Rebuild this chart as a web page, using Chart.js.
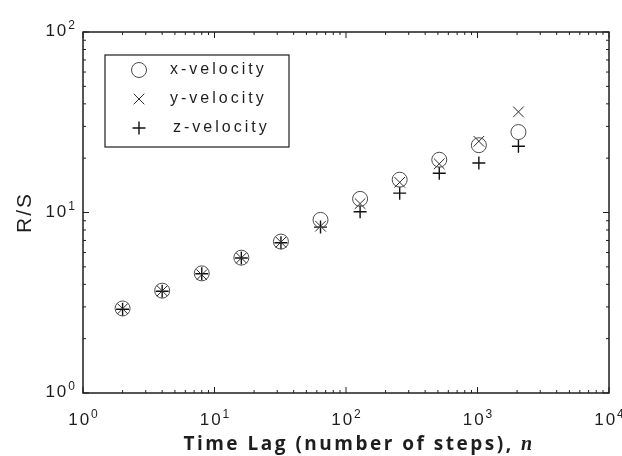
<!DOCTYPE html>
<html>
<head>
<meta charset="utf-8">
<script src="https://cdn.jsdelivr.net/npm/chart.js@4.4.1/dist/chart.umd.min.js"></script>
<style>
  html, body { margin: 0; background: #fff; }
  canvas { display: block; }
</style>
</head>
<body>
<canvas id="rs" width="622" height="456"></canvas>
<script>
// time lag n (number of steps)
const lagSteps = [2, 4, 8, 16, 32, 64, 128, 256, 512, 1024, 2048];
// R/S values
const xVelocity = [2.94, 3.69, 4.60, 5.62, 6.90, 9.1, 11.9, 15.2, 19.6, 23.6, 27.9];
const yVelocity = [2.93, 3.68, 4.52, 5.60, 6.85, 8.4, 11.2, 14.7, 18.6, 24.8, 36.1];
const zVelocity = [2.91, 3.66, 4.58, 5.60, 6.80, 8.3, 10.1, 12.8, 16.5, 18.8, 23.3];
const seriesNames = ['x-velocity', 'y-velocity', 'z-velocity'];
// decade exponents shown on the axes
const xExponents = [0, 1, 2, 3, 4];
const yExponents = [0, 1, 2];

const ink = '#1e1e1e';

function toPoints(vals) {
  return lagSteps.map((n, i) => ({ x: n, y: vals[i] }));
}

// "10" with a raised exponent, anchored at (x, baseline)
function powerLabel(ctx, exp, x, base, align) {
  ctx.font = '17px "Liberation Sans"';
  ctx.letterSpacing = '2px';
  const wMain = ctx.measureText('10').width;
  ctx.font = '12px "Liberation Sans"';
  ctx.letterSpacing = '0px';
  const wExp = ctx.measureText(String(exp)).width;
  const total = wMain + wExp;
  let left = x - total / 2;
  if (align === 'right') left = x - total;
  ctx.textAlign = 'left';
  ctx.textBaseline = 'alphabetic';
  ctx.font = '17px "Liberation Sans"';
  ctx.letterSpacing = '2px';
  ctx.fillText('10', left, base);
  ctx.font = '12px "Liberation Sans"';
  ctx.letterSpacing = '0px';
  ctx.fillText(String(exp), left + wMain, base - 7);
}

const framePlugin = {
  id: 'frame',
  afterDraw(chart) {
    const { ctx, chartArea: a, scales: { x, y } } = chart;
    ctx.save();
    ctx.fillStyle = ink;
    ctx.strokeStyle = ink;

    // frame
    ctx.lineWidth = 1.5;
    ctx.strokeRect(a.left, a.top, a.right - a.left, a.bottom - a.top);

    // inward ticks on all four sides
    ctx.lineWidth = 1;
    ctx.beginPath();
    xExponents.forEach(e => {
      for (let m = 1; m <= 9; m++) {
        const v = m * Math.pow(10, e);
        if (v > x.max) break;
        const px = x.getPixelForValue(v);
        const len = m === 1 ? 6 : 3;
        ctx.moveTo(px, a.bottom); ctx.lineTo(px, a.bottom - len);
        ctx.moveTo(px, a.top); ctx.lineTo(px, a.top + len);
      }
    });
    yExponents.forEach(e => {
      for (let m = 1; m <= 9; m++) {
        const v = m * Math.pow(10, e);
        if (v > y.max) break;
        const py = y.getPixelForValue(v);
        const len = m === 1 ? 6 : 3;
        ctx.moveTo(a.left, py); ctx.lineTo(a.left + len, py);
        ctx.moveTo(a.right, py); ctx.lineTo(a.right - len, py);
      }
    });
    ctx.stroke();

    // tick labels
    xExponents.forEach(e => {
      powerLabel(ctx, e, x.getPixelForValue(Math.pow(10, e)), a.bottom + 32, 'center');
    });
    yExponents.forEach(e => {
      powerLabel(ctx, e, a.left - 8, y.getPixelForValue(Math.pow(10, e)) + 4, 'right');
    });

    // x title, bold with an italic serif n
    const titleMain = 'Time Lag (number of steps), ';
    ctx.textAlign = 'left';
    ctx.textBaseline = 'alphabetic';
    ctx.font = 'bold 19px "Open Sans"';
    ctx.letterSpacing = '2.5px';
    const wMain = ctx.measureText(titleMain).width;
    ctx.font = 'bold italic 20px "Liberation Serif"';
    const wN = ctx.measureText('n').width;
    const tx = (a.left + a.right) / 2 + 13 - (wMain + wN) / 2;
    ctx.font = 'bold 19px "Open Sans"';
    ctx.fillText(titleMain, tx, 450);
    ctx.font = 'bold italic 20px "Liberation Serif"';
    ctx.letterSpacing = '0px';
    ctx.fillText('n', tx + wMain, 450);

    // y title
    ctx.save();
    ctx.translate(25, (a.top + a.bottom) / 2);
    ctx.rotate(-Math.PI / 2);
    ctx.textAlign = 'center';
    ctx.textBaseline = 'middle';
    ctx.font = '21px "Liberation Sans"';
    ctx.letterSpacing = '2px';
    ctx.fillText('R/S', 0, 0);
    ctx.restore();

    // legend box
    const bx = 105, by = 55, bw = 184, bh = 92;
    ctx.lineWidth = 1.2;
    ctx.strokeRect(bx, by, bw, bh);
    chart.data.datasets.forEach((ds, i) => {
      const rowY = by + 15 + i * 29;
      ctx.strokeStyle = ds.borderColor;
      ctx.fillStyle = 'rgba(0,0,0,0)';
      ctx.lineWidth = ds.borderWidth;
      Chart.helpers.drawPoint(ctx, {
        pointStyle: ds.pointStyle,
        radius: ds.pointRadius,
        borderWidth: ds.borderWidth,
        rotation: 0
      }, bx + 34, rowY);
      ctx.fillStyle = ink;
      ctx.font = '16px "Liberation Sans"';
      ctx.letterSpacing = '3px';
      ctx.textAlign = 'left';
      ctx.textBaseline = 'middle';
      ctx.fillText(seriesNames[i], bx + 65 + (i === 2 ? 3 : 0), rowY);
    });
    ctx.restore();
  }
};

new Chart(document.getElementById('rs'), {
  type: 'scatter',
  data: {
    datasets: [
      {
        label: seriesNames[0],
        data: toPoints(xVelocity),
        pointStyle: 'circle',
        pointRadius: 7.5,
        borderColor: '#4a4a4a',
        backgroundColor: 'rgba(0,0,0,0)',
        borderWidth: 1
      },
      {
        label: seriesNames[1],
        data: toPoints(yVelocity),
        pointStyle: 'crossRot',
        pointRadius: 7.5,
        borderColor: '#2a2a2a',
        backgroundColor: 'rgba(0,0,0,0)',
        borderWidth: 1
      },
      {
        label: seriesNames[2],
        data: toPoints(zVelocity),
        pointStyle: 'cross',
        pointRadius: 6.5,
        borderColor: '#111',
        backgroundColor: 'rgba(0,0,0,0)',
        borderWidth: 1.4
      }
    ]
  },
  options: {
    responsive: false,
    animation: false,
    events: [],
    layout: { padding: { top: 32, right: 13, left: 0, bottom: 0 } },
    plugins: {
      legend: { display: false },
      tooltip: { enabled: false }
    },
    scales: {
      x: {
        type: 'logarithmic',
        min: 1,
        max: 10000,
        grid: { display: false },
        border: { display: false },
        ticks: { display: false },
        afterFit: s => { s.height = 63; }
      },
      y: {
        type: 'logarithmic',
        min: 1,
        max: 100,
        grid: { display: false },
        border: { display: false },
        ticks: { display: false },
        afterFit: s => { s.width = 83; }
      }
    }
  },
  plugins: [framePlugin]
});
</script>
</body>
</html>
